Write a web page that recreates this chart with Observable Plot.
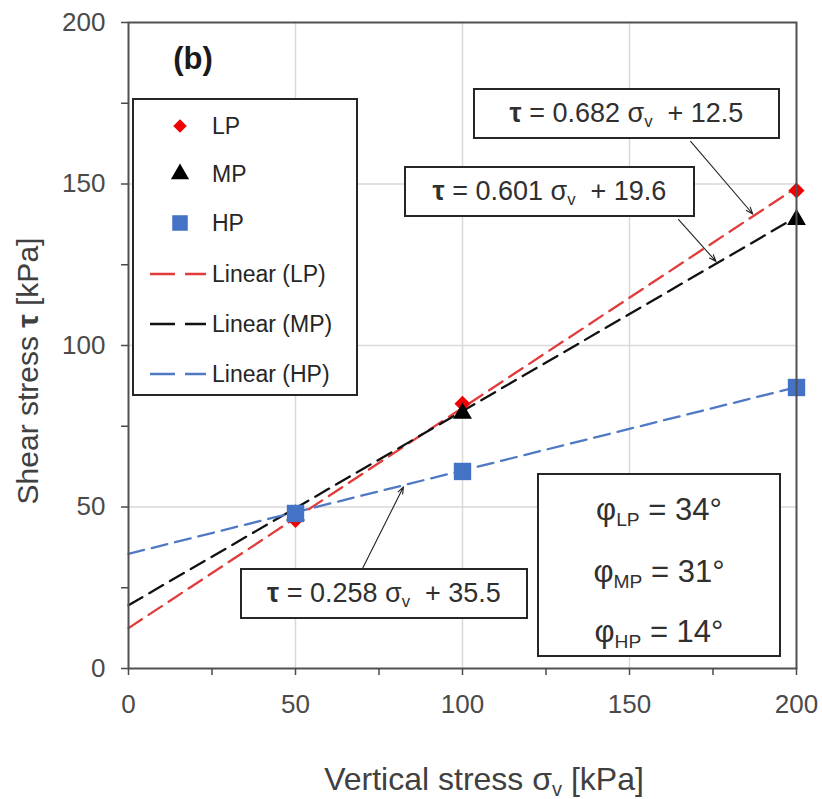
<!DOCTYPE html>
<html>
<head>
<meta charset="utf-8">
<script src="https://cdn.jsdelivr.net/npm/d3@7"></script>
<script src="https://cdn.jsdelivr.net/npm/@observablehq/plot@0.6"></script>
<style>
  html, body { margin: 0; padding: 0; background: #fff; }
  body { font-family: "Liberation Sans", Arial, sans-serif; }
  #wrap { position: relative; width: 822px; height: 799px; overflow: hidden; background: #fff; }
  .box { position: absolute; box-sizing: border-box; border: 2px solid #262626; background: #fff; color: #303030; }
  .eq { display: flex; align-items: center; justify-content: center; font-size: 27px; white-space: pre; }
  .eq span.s { position: relative; top: 0.32em; font-size: 0.62em; }
  .phi sub { font-size: 0.62em; vertical-align: -0.3em; line-height: 0; }
  .lbl { position: absolute; font-size: 23px; color: #262626; transform: translateY(-50%); white-space: pre; }
  .phi { position: absolute; left: 0; right: 0; text-align: center; font-size: 31px; color: #303030; transform: translateY(-50%); white-space: pre; }
</style>
</head>
<body>
<div id="wrap"></div>
<script>
// ---------------- data ----------------
const series = ["LP", "MP", "HP"];
const sigmaV = [50, 100, 200];
const tauLP = [46, 82, 148];
const tauMP = [47.5, 79, 139];
const tauHP = [48, 61, 87];
const slopes = [0.682, 0.601, 0.258];
const intercepts = [12.5, 19.6, 35.5];
const phiDeg = [34, 31, 14];
const xDomain = [0, 200];
const yDomain = [0, 200];
const xTicks = [0, 25, 50, 75, 100, 125, 150, 175, 200];
const yTicks = [0, 25, 50, 75, 100, 125, 150, 175, 200];
const labelEvery = 50;
const gridValues = [50, 100, 150];

// ---------------- styles ----------------
const dotColor = { LP: "#f00000", MP: "#000000", HP: "#4472c4" };
const lineColor = { LP: "#e23b3b", MP: "#111111", HP: "#5079c3" };
const symbolOf = { LP: "diamond2", MP: "triangle", HP: "square" };
const symbolR = { LP: 7.2, MP: 7.0, HP: 9.8 };
const FONT = '"Liberation Sans", Arial, sans-serif';

// ---------------- tables ----------------
const tauBySeries = [tauLP, tauMP, tauHP];
const points = series.flatMap((s, i) => sigmaV.map((x, j) => ({ series: s, x, y: tauBySeries[i][j] })));
const fits = series.flatMap((s, i) => xDomain.map(x => ({ series: s, x, y: slopes[i] * x + intercepts[i] })));

// annotation layout (arrow start in data units, arrow tip at x on the fit line)
const arrowLayout = [
  { series: "LP", x1: 168.3, y1: 163.2, x2: 187.3 },
  { series: "MP", x1: 164.7, y1: 139.0, x2: 176.3 },
  { series: "HP", x1: 70.1, y1: 31.0, x2: 82.6 }
];
const arrows = arrowLayout.map(a => {
  const i = series.indexOf(a.series);
  return { ...a, y2: slopes[i] * a.x2 + intercepts[i] };
});

const dotMarks = series.map(s =>
  Plot.dot(points.filter(d => d.series === s), {
    x: "x", y: "y", symbol: () => symbolOf[s], fill: dotColor[s], r: symbolR[s], stroke: "none"
  })
);

const chart = Plot.plot({
  width: 822,
  height: 799,
  marginLeft: 128,
  marginRight: 26,
  marginTop: 22,
  marginBottom: 131,
  style: { fontFamily: FONT, background: "#fff" },
  x: { domain: xDomain, axis: null },
  y: { domain: yDomain, axis: null },
  color: { domain: series, range: series.map(s => lineColor[s]) },
  symbol: { domain: ["diamond2", "triangle", "square"], range: ["diamond2", "triangle", "square"] },
  marks: [
    Plot.gridX(gridValues, { stroke: "#d9d9d9", strokeOpacity: 1, strokeWidth: 1.5 }),
    Plot.gridY(gridValues, { stroke: "#d9d9d9", strokeOpacity: 1, strokeWidth: 1.5 }),
    Plot.line(fits, { x: "x", y: "y", z: "series", stroke: "series", strokeWidth: 2.3, strokeDasharray: "16,8" }),
    Plot.arrow(arrows, { x1: "x1", y1: "y1", x2: "x2", y2: "y2", stroke: "#222", strokeWidth: 1.1, headLength: 10, headAngle: 40, insetEnd: 2 }),
    ...dotMarks,
    Plot.frame({ stroke: "#505050", strokeWidth: 2 }),
    Plot.axisX(xTicks, {
      tickFormat: d => (d % labelEvery === 0 ? String(d) : ""),
      tickSize: 7, tickPadding: 19, fontSize: 26, color: "#4a4a4a", strokeWidth: 1.5, label: null
    }),
    Plot.axisY(yTicks, {
      tickFormat: d => (d % labelEvery === 0 ? String(d) : ""),
      tickSize: 7, tickPadding: 16, fontSize: 26, color: "#4a4a4a", strokeWidth: 1.5, label: null
    })
  ]
});
chart.style.position = "absolute";
chart.style.left = "0px";
chart.style.top = "0px";

const wrap = document.getElementById("wrap");
wrap.appendChild(chart);

// ---------------- axis titles ----------------
const svg = d3.select(chart);
const yt = svg.append("text")
  .attr("transform", "translate(27,371) rotate(-90)")
  .attr("text-anchor", "middle")
  .attr("dominant-baseline", "central")
  .attr("font-size", 30)
  .attr("font-family", FONT)
  .attr("fill", "#404040");
yt.append("tspan").text("Shear stress ");
yt.append("tspan").attr("font-weight", "bold").text("τ");
yt.append("tspan").text(" [kPa]");

const xt = svg.append("text")
  .attr("x", 484).attr("y", 790)
  .attr("text-anchor", "middle")
  .attr("font-size", 32)
  .attr("font-family", FONT)
  .attr("fill", "#404040");
xt.append("tspan").text("Vertical stress σ");
xt.append("tspan").attr("font-size", 20).attr("dy", 6).text("v");
xt.append("tspan").attr("dy", -6).text(" [kPa]");

svg.append("text")
  .attr("x", 193).attr("y", 69)
  .attr("text-anchor", "middle")
  .attr("font-size", 31)
  .attr("font-weight", "bold")
  .attr("font-family", FONT)
  .attr("fill", "#1a1a1a")
  .text("(b)");

// ---------------- legend ----------------
const legend = document.createElement("div");
legend.className = "box";
Object.assign(legend.style, { left: "132px", top: "98px", width: "226px", height: "298px" });
wrap.appendChild(legend);

const legendSymbolSize = { LP: 9, MP: 10, HP: 13 };
const rowY = [26, 74, 123, 174, 224, 274];
series.forEach((s, i) => {
  const sv = d3.create("svg").attr("width", 30).attr("height", 30)
    .style("position", "absolute").style("left", "31px").style("top", (rowY[i] - 15) + "px");
  const typ = { diamond2: d3.symbolDiamond2, triangle: d3.symbolTriangle, square: d3.symbolSquare }[symbolOf[s]];
  sv.append("path")
    .attr("transform", "translate(15,15)")
    .attr("d", d3.symbol(typ, Math.PI * legendSymbolSize[s] * legendSymbolSize[s] / 2.2)())
    .attr("fill", dotColor[s]);
  legend.appendChild(sv.node());
  const t = document.createElement("div");
  t.className = "lbl";
  t.style.left = "78px";
  t.style.top = rowY[i] + "px";
  t.textContent = s;
  legend.appendChild(t);
});
series.forEach((s, i) => {
  const y = rowY[i + 3];
  const sv = d3.create("svg").attr("width", 56).attr("height", 10)
    .style("position", "absolute").style("left", "16px").style("top", (y - 5) + "px");
  sv.append("line").attr("x1", 0).attr("x2", 56).attr("y1", 5).attr("y2", 5)
    .attr("stroke", lineColor[s]).attr("stroke-width", 2.3).attr("stroke-dasharray", "25,10");
  legend.appendChild(sv.node());
  const t = document.createElement("div");
  t.className = "lbl";
  t.style.left = "78px";
  t.style.top = y + "px";
  t.textContent = `Linear (${s})`;
  legend.appendChild(t);
});

// ---------------- equation boxes ----------------
const eqBoxes = [
  { series: "LP", left: 473, top: 88, width: 307, height: 51 },
  { series: "MP", left: 404, top: 166, width: 291, height: 51 },
  { series: "HP", left: 240, top: 568, width: 288, height: 51 }
];
eqBoxes.forEach(b => {
  const i = series.indexOf(b.series);
  const d = document.createElement("div");
  d.className = "box eq";
  Object.assign(d.style, { left: b.left + "px", top: b.top + "px", width: b.width + "px", height: b.height + "px" });
  d.innerHTML = `<span><b>τ</b> = ${slopes[i].toFixed(3)} σ<span class="s">v</span>  + ${intercepts[i].toFixed(1)}</span>`;
  wrap.appendChild(d);
});

// ---------------- friction angle box ----------------
const phiBox = document.createElement("div");
phiBox.className = "box";
Object.assign(phiBox.style, { left: "537px", top: "473px", width: "244px", height: "184px" });
const phiRowY = [35, 97, 157];
series.forEach((s, i) => {
  const r = document.createElement("div");
  r.className = "phi";
  r.style.top = phiRowY[i] + "px";
  r.innerHTML = `φ<sub>${s}</sub> = ${phiDeg[i]}°`;
  phiBox.appendChild(r);
});
wrap.appendChild(phiBox);
</script>
</body>
</html>
